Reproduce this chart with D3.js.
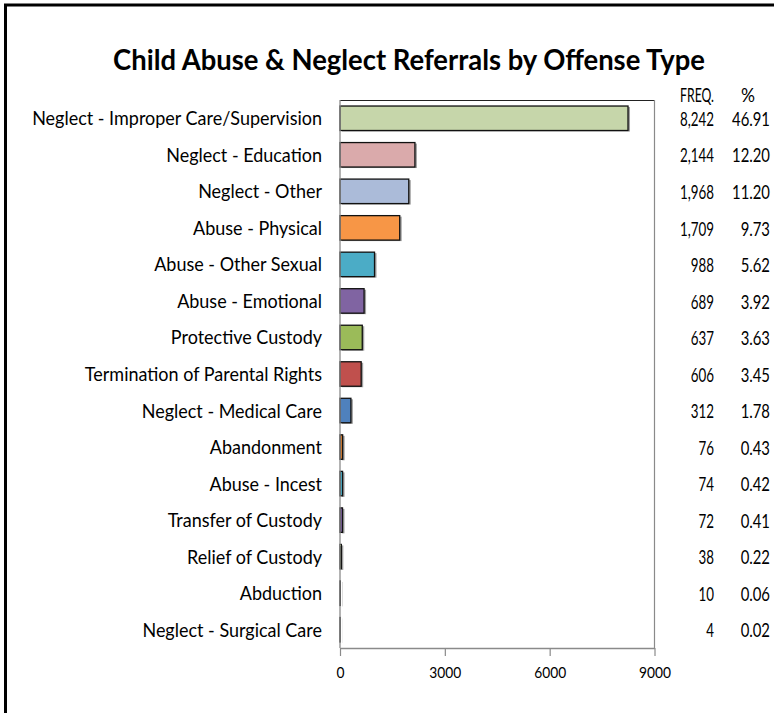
<!DOCTYPE html>
<html>
<head>
<meta charset="utf-8">
<script src="https://cdn.jsdelivr.net/npm/d3@7"></script>
<style>
  html, body { margin: 0; padding: 0; background: #fff; }
  svg { display: block; }
  text { font-family: Lato, "Open Sans", "Noto Sans", sans-serif; fill: #000; }
</style>
</head>
<body>
<svg id="chart" width="774" height="713"></svg>
<script>
const categories = [
  "Neglect - Improper Care/Supervision",
  "Neglect - Education",
  "Neglect - Other",
  "Abuse - Physical",
  "Abuse - Other Sexual",
  "Abuse - Emotional",
  "Protective Custody",
  "Termination of Parental Rights",
  "Neglect - Medical Care",
  "Abandonment",
  "Abuse - Incest",
  "Transfer of Custody",
  "Relief of Custody",
  "Abduction",
  "Neglect - Surgical Care"
];
const freq = [8242, 2144, 1968, 1709, 988, 689, 637, 606, 312, 76, 74, 72, 38, 10, 4];
const pct = ["46.91", "12.20", "11.20", "9.73", "5.62", "3.92", "3.63", "3.45", "1.78", "0.43", "0.42", "0.41", "0.22", "0.06", "0.02"];
const xTicks = [0, 3000, 6000, 9000];
const barColors = ["#C6D6AA", "#DAAAAB", "#ABBBD9", "#F79646", "#4BACC6", "#8064A2", "#9BBB59",
                   "#C0504D", "#4F81BD", "#C9762F", "#4BACC6", "#8064A2", "#9BBB59", "#C0504D", "#4F81BD"];
const title = "Child Abuse & Neglect Referrals by Offense Type";

const svg = d3.select("#chart");
svg.append("rect").attr("width", 774).attr("height", 713).attr("fill", "#fff");

// outer frame (top and left edges visible)
svg.append("line").attr("x1", 4).attr("x2", 774).attr("y1", 5).attr("y2", 5)
  .attr("stroke", "#000").attr("stroke-width", 3);
svg.append("line").attr("x1", 5.5).attr("x2", 5.5).attr("y1", 4).attr("y2", 713)
  .attr("stroke", "#000").attr("stroke-width", 3);

// helper: compress a group of texts horizontally by a common ratio (about each text's anchor x)
function fitGroup(sel, refNode, targetWidth) {
  const ratio = targetWidth / refNode.getComputedTextLength();
  sel.each(function () {
    const ax = +(this.getAttribute("x") || 0);
    d3.select(this).attr("transform", `translate(${ax},0) scale(${ratio},1) translate(${-ax},0)`);
  });
}

const plot = { left: 340, right: 654.5, top: 100, bottom: 648 };

const x = d3.scaleLinear().domain([0, 9000]).range([plot.left, plot.right]);
const y = d3.scaleBand().domain(categories).range([plot.top, plot.bottom])
  .paddingInner(0.33).paddingOuter(0.165);

// title
const t = svg.append("text").attr("x", 409).attr("y", 70)
  .attr("text-anchor", "middle").attr("font-weight", "bold").attr("font-size", 29)
  .text(title);
fitGroup(t, t.node(), 592);

// plot frame top & right
svg.append("line").attr("x1", plot.left).attr("x2", plot.right).attr("y1", plot.top + 0.5).attr("y2", plot.top + 0.5)
  .attr("stroke", "#222").attr("stroke-width", 1.2);
svg.append("line").attr("x1", plot.right).attr("x2", plot.right).attr("y1", plot.top).attr("y2", plot.bottom)
  .attr("stroke", "#8a8a8a").attr("stroke-width", 1.2);

// bars (shadow + bar)
const rows = categories.map((c, i) => ({ c, v: freq[i], p: pct[i], col: barColors[i] }));
svg.append("g").selectAll("rect").data(rows).join("rect")
  .attr("x", d => x(0) + 2).attr("y", d => y(d.c) + 1)
  .attr("width", d => x(d.v) - x(0)).attr("height", y.bandwidth())
  .attr("fill", "#a0a0a0");
svg.append("g").selectAll("rect").data(rows).join("rect")
  .attr("x", x(0)).attr("y", d => y(d.c))
  .attr("width", d => x(d.v) - x(0)).attr("height", y.bandwidth())
  .attr("fill", d => d.col).attr("stroke", "#111").attr("stroke-width", 1.3);

// left axis line
svg.append("line").attr("x1", plot.left).attr("x2", plot.left).attr("y1", plot.top).attr("y2", plot.bottom)
  .attr("stroke", "#8a8a8a").attr("stroke-width", 1.3);

// bottom axis
const xAxis = d3.axisBottom(x).tickValues(xTicks).tickSize(8).tickSizeOuter(0).tickPadding(11)
  .tickFormat(d3.format("d"));
const gx = svg.append("g").attr("transform", `translate(0,${plot.bottom})`).call(xAxis);
gx.select(".domain").attr("stroke", "#8a8a8a").attr("stroke-width", 1.3);
gx.selectAll(".tick line").attr("stroke", "#8a8a8a").attr("stroke-width", 1.2);
const tickTexts = gx.selectAll(".tick text").attr("font-size", 15.5)
  .attr("font-family", "Lato, 'Open Sans', sans-serif").attr("fill", "#000");
fitGroup(tickTexts, tickTexts.nodes()[1], 32);

// category labels
const labels = svg.append("g").selectAll("text").data(rows).join("text")
  .attr("x", 322).attr("y", d => y(d.c) + y.bandwidth() / 2)
  .attr("dy", "0.36em").attr("text-anchor", "end").attr("font-size", 19.5)
  .text(d => d.c);
fitGroup(labels, labels.nodes()[0], 290);

// table header
const hFreq = svg.append("text").attr("x", 714).attr("y", 102).attr("text-anchor", "end")
  .attr("font-size", 18.5).text("FREQ.");
fitGroup(hFreq, hFreq.node(), 34);
const hPct = svg.append("text").attr("x", 748).attr("y", 102).attr("text-anchor", "middle")
  .attr("font-size", 18.5).text("%");
fitGroup(hPct, hPct.node(), 14);

// table values
const fmt = d3.format(",");
const fTexts = svg.append("g").selectAll("text").data(rows).join("text")
  .attr("x", 714).attr("y", d => y(d.c) + y.bandwidth() / 2 + 1)
  .attr("dy", "0.36em").attr("text-anchor", "end").attr("font-size", 18.5)
  .text(d => fmt(d.v));
fitGroup(fTexts, fTexts.nodes()[0], 34);
const pTexts = svg.append("g").selectAll("text").data(rows).join("text")
  .attr("x", 770).attr("y", d => y(d.c) + y.bandwidth() / 2 + 1)
  .attr("dy", "0.36em").attr("text-anchor", "end").attr("font-size", 18.5)
  .text(d => d.p);
fitGroup(pTexts, pTexts.nodes()[0], 38);
</script>
</body>
</html>
